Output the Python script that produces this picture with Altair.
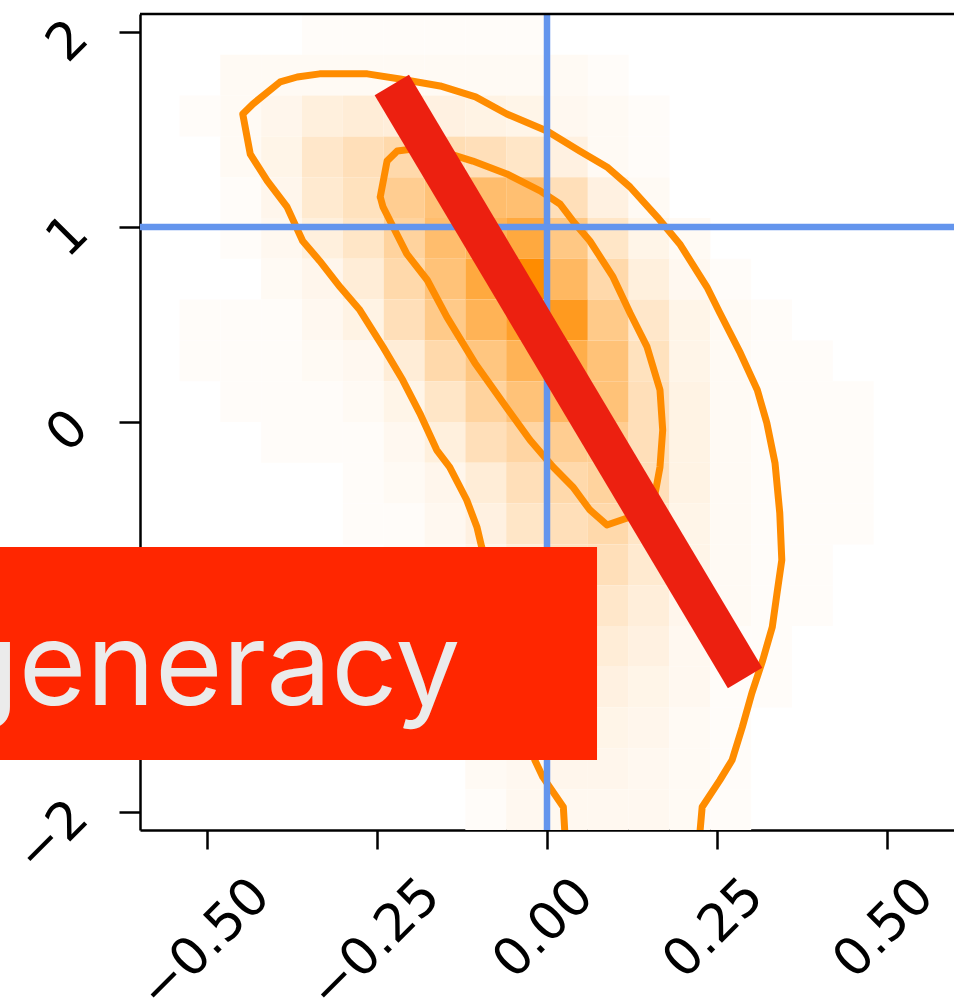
import altair as alt
import pandas as pd

# Axis extents of the panel
X_DOMAIN = [-0.598, 0.598]
Y_DOMAIN = [-2.092, 2.092]
X_TICKS = [-0.5, -0.25, 0.0, 0.25, 0.5]
Y_TICKS = [-2, -1, 0, 1, 2]

# 2D histogram (20 x 20 bins); rows run from the top bin down
X_BIN_START, X_BIN_WIDTH = -0.6, 0.06
Y_BIN_TOP, Y_BIN_HEIGHT = 2.092, 0.2092
hist_rows = [
    [0, 0, 0, 0, 1, 1, 1, 1, 1, 1, 0, 0, 0, 0, 0, 0, 0, 0, 0, 0],
    [0, 0, 2, 2, 2, 2, 2, 2, 2, 2, 2, 1, 0, 0, 0, 0, 0, 0, 0, 0],
    [0, 1, 2, 4, 8, 10, 9, 7, 6, 5, 3, 2, 1, 0, 0, 0, 0, 0, 0, 0],
    [0, 0, 2, 5, 14, 20, 25, 22, 20, 15, 7, 2, 1, 0, 0, 0, 0, 0, 0, 0],
    [0, 0, 1, 4, 12, 18, 35, 45, 50, 48, 20, 7, 2, 0, 0, 0, 0, 0, 0, 0],
    [0, 0, 1, 3, 8, 15, 30, 50, 60, 70, 40, 15, 5, 2, 0, 0, 0, 0, 0, 0],
    [0, 0, 0, 2, 4, 10, 25, 45, 70, 100, 55, 25, 8, 3, 1, 0, 0, 0, 0, 0],
    [0, 1, 1, 1, 3, 6, 20, 38, 60, 80, 85, 38, 14, 5, 2, 1, 0, 0, 0, 0],
    [0, 1, 1, 1, 2, 3, 10, 25, 42, 60, 65, 45, 18, 5, 2, 1, 1, 0, 0, 0],
    [0, 0, 1, 1, 1, 2, 5, 15, 30, 45, 55, 45, 20, 6, 2, 1, 1, 1, 0, 0],
    [0, 0, 0, 1, 1, 1, 3, 8, 20, 28, 35, 35, 20, 6, 2, 1, 1, 1, 0, 0],
    [0, 0, 0, 0, 0, 1, 2, 4, 10, 20, 25, 30, 20, 6, 2, 1, 1, 1, 0, 0],
    [0, 0, 0, 0, 0, 1, 1, 3, 7, 15, 20, 25, 15, 5, 2, 1, 1, 1, 0, 0],
    [0, 0, 0, 0, 0, 0, 1, 2, 5, 10, 18, 20, 12, 5, 2, 1, 1, 0, 0, 0],
    [0, 0, 0, 0, 0, 0, 1, 2, 4, 8, 12, 14, 9, 4, 2, 1, 1, 0, 0, 0],
    [0, 0, 0, 0, 0, 0, 0, 1, 3, 6, 8, 10, 7, 3, 1, 1, 0, 0, 0, 0],
    [0, 0, 0, 0, 0, 0, 0, 1, 2, 5, 6, 7, 5, 3, 1, 1, 0, 0, 0, 0],
    [0, 0, 0, 0, 0, 0, 0, 1, 2, 4, 5, 5, 4, 2, 1, 0, 0, 0, 0, 0],
    [0, 0, 0, 0, 0, 0, 0, 0, 2, 3, 4, 4, 3, 2, 1, 0, 0, 0, 0, 0],
    [0, 0, 0, 0, 0, 0, 0, 0, 1, 3, 3, 3, 3, 2, 1, 0, 0, 0, 0, 0],
]

# Outer (open at the bottom edge) and inner credible contours
outer_x = [0.026, 0.024, -0.006, -0.018, -0.028, -0.047, -0.069, -0.096, -0.103,
           -0.118, -0.143, -0.162, -0.187, -0.212, -0.241, -0.275, -0.304, -0.334,
           -0.359, -0.382, -0.411, -0.436, -0.447, -0.432, -0.392, -0.367, -0.334,
           -0.264, -0.216, -0.157, -0.105, -0.059, 0.000, 0.048, 0.088, 0.122,
           0.162, 0.195, 0.235, 0.254, 0.284, 0.309, 0.323, 0.335, 0.342, 0.345,
           0.338, 0.331, 0.317, 0.301, 0.287, 0.272, 0.254, 0.228, 0.225]
outer_y = [-2.092, -1.974, -1.821, -1.733, -1.528, -1.221, -0.913, -0.641, -0.538,
           -0.400, -0.231, -0.144, 0.046, 0.215, 0.385, 0.574, 0.692, 0.826,
           0.928, 1.103, 1.236, 1.374, 1.579, 1.631, 1.744, 1.769, 1.785,
           1.785, 1.759, 1.723, 1.667, 1.579, 1.492, 1.390, 1.308, 1.205,
           1.051, 0.913, 0.692, 0.559, 0.354, 0.164, -0.005, -0.210, -0.467, -0.708,
           -0.877, -1.051, -1.221, -1.390, -1.564, -1.733, -1.836, -1.974, -2.092]
inner_x = [-0.245, -0.235, -0.220, -0.197, -0.157, -0.109, -0.059, -0.010, 0.019,
           0.038, 0.063, 0.097, 0.122, 0.147, 0.166, 0.170, 0.166, 0.159, 0.147,
           0.118, 0.088, 0.063, 0.038, 0.009, -0.025, -0.059, -0.106, -0.147,
           -0.176, -0.206, -0.226, -0.241, -0.245]
inner_y = [1.154, 1.338, 1.390, 1.400, 1.390, 1.338, 1.272, 1.185, 1.118,
           1.031, 0.928, 0.744, 0.559, 0.385, 0.164, -0.041, -0.231, -0.364, -0.436,
           -0.492, -0.528, -0.451, -0.333, -0.231, -0.092, 0.072, 0.303, 0.538,
           0.728, 0.862, 1.000, 1.103, 1.154]

# Reference (true) parameter values
truth_x = [0.0]
truth_y = [1.0]

# Degeneracy direction
band_x = [-0.228, 0.291]
band_y = [1.728, -1.313]

# Label box
label_text = "degeneracy"
box_x, box_x2 = -0.82, 0.0735
box_y, box_y2 = -0.641, -1.733
label_x, label_y = -0.127, -1.451

# ---- tables ----
cells = []
for r, row in enumerate(hist_rows):
    for c, v in enumerate(row):
        if v > 0:
            cells.append({
                "x": X_BIN_START + c * X_BIN_WIDTH,
                "x2": X_BIN_START + (c + 1) * X_BIN_WIDTH,
                "y": Y_BIN_TOP - r * Y_BIN_HEIGHT,
                "y2": Y_BIN_TOP - (r + 1) * Y_BIN_HEIGHT,
                "count": v,
            })
hist_df = pd.DataFrame(cells)
outer_df = pd.DataFrame({"x": outer_x, "y": outer_y, "i": range(len(outer_x))})
inner_df = pd.DataFrame({"x": inner_x, "y": inner_y, "i": range(len(inner_x))})
band_df = pd.DataFrame({"x": band_x, "y": band_y, "i": range(len(band_x))})

label_font = "DejaVu Sans"
x_axis = alt.Axis(
    values=X_TICKS, format=".2f", title=None, grid=False,
    labelAngle=-45, labelAlign="right", labelBaseline="middle",
    labelFont=label_font, labelFontSize=52, labelColor="black",
    labelPadding=38,
    labelOffset={"condition": {"test": "datum.value < 0", "value": 54}, "value": 37},
    labelFlush=False, labelOverlap=False,
    tickColor="black", tickSize=19, tickWidth=2.5,
    domainColor="black", domainWidth=2.5,
)
y_axis = alt.Axis(
    values=Y_TICKS, format="d", title=None, grid=False,
    labelAngle=-45, labelAlign="right", labelBaseline="middle",
    labelFont=label_font, labelFontSize=52, labelColor="black",
    labelPadding=40, labelOffset=-3,
    labelFlush=False, labelOverlap=False,
    tickColor="black", tickSize=21, tickWidth=2.5,
    domainColor="black", domainWidth=2.5,
)
x_scale = alt.Scale(domain=X_DOMAIN, nice=False, zero=False)
y_scale = alt.Scale(domain=Y_DOMAIN, nice=False, zero=False)


def X(field="x"):
    return alt.X(f"{field}:Q", scale=x_scale, axis=x_axis)


def Y(field="y"):
    return alt.Y(f"{field}:Q", scale=y_scale, axis=y_axis)


heat = alt.Chart(hist_df).mark_rect(clip=True).encode(
    x=X(), x2="x2:Q", y=Y(), y2="y2:Q",
    color=alt.Color("count:Q",
                    scale=alt.Scale(type="pow", exponent=0.8, domain=[0, 100],
                                    range=["#ffffff", "#ff8c00"], interpolate="rgb"),
                    legend=None),
)

contour_style = dict(color="#ff8c00", strokeWidth=7, strokeJoin="round", strokeCap="round", clip=True)
outer = alt.Chart(outer_df).mark_line(**contour_style).encode(x=X(), y=Y(), order="i:Q")
inner = alt.Chart(inner_df).mark_line(**contour_style).encode(x=X(), y=Y(), order="i:Q")

vline = alt.Chart(pd.DataFrame({"x": truth_x})).mark_rule(color="#6495ed", strokeWidth=6.5).encode(x=X())
hline = alt.Chart(pd.DataFrame({"y": truth_y})).mark_rule(color="#6495ed", strokeWidth=6.5).encode(y=Y())

band = alt.Chart(band_df).mark_line(color="#ec2010", strokeWidth=40, strokeCap="butt").encode(
    x=X(), y=Y(), order="i:Q"
)

top_frame = alt.Chart(pd.DataFrame({"x": [X_DOMAIN[0]], "x2": [X_DOMAIN[1]], "y": [Y_DOMAIN[1]]})).mark_rule(
    color="black", strokeWidth=2.5
).encode(x=X(), x2="x2:Q", y=Y())

box = alt.Chart(pd.DataFrame({"x": [box_x], "x2": [box_x2], "y": [box_y], "y2": [box_y2]})).mark_rect(
    color="#ff2600"
).encode(x=X(), x2="x2:Q", y=Y(), y2="y2:Q")

label = alt.Chart(pd.DataFrame({"x": [label_x], "y": [label_y], "t": [label_text]})).mark_text(
    font="Inter", fontSize=116, color="#ebebeb", align="right", baseline="alphabetic"
).encode(x=X(), y=Y(), text="t:N")

chart = alt.layer(heat, outer, inner, vline, hline, band, top_frame, box, label).properties(
    width=814, height=816,
    autosize=alt.AutoSizeParams(type="none"),
    padding={"left": 140, "top": 14, "right": 0, "bottom": 170},
    background="white",
).configure_view(stroke=None)

chart.save("out.html", embed_options={"renderer": "svg", "actions": False})
